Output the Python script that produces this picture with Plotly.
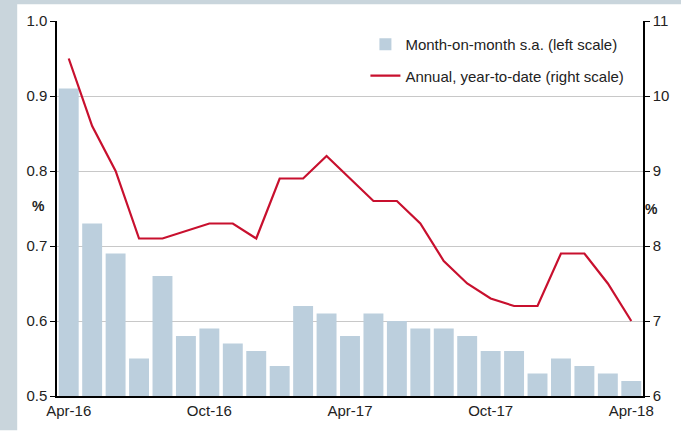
import plotly.graph_objects as go

months = ["Apr-16","May-16","Jun-16","Jul-16","Aug-16","Sep-16","Oct-16","Nov-16","Dec-16",
          "Jan-17","Feb-17","Mar-17","Apr-17","May-17","Jun-17","Jul-17","Aug-17","Sep-17",
          "Oct-17","Nov-17","Dec-17","Jan-18","Feb-18","Mar-18","Apr-18"]
mom_sa = [0.91,0.73,0.69,0.55,0.66,0.58,0.59,0.57,0.56,0.54,0.62,0.61,0.58,0.61,0.60,0.59,
          0.59,0.58,0.56,0.56,0.53,0.55,0.54,0.53,0.52]
annual_ytd = [10.5,9.6,9.0,8.1,8.1,8.2,8.3,8.3,8.1,8.9,8.9,9.2,8.9,8.6,8.6,8.3,7.8,7.5,7.3,
              7.2,7.2,7.9,7.9,7.5,7.0]
tick_labels = ["Apr-16","Oct-16","Apr-17","Oct-17","Apr-18"]

idx = list(range(len(months)))
tick_idx = [months.index(t) for t in tick_labels]

FONT = "Liberation Sans, Arial, sans-serif"
fig = go.Figure()
fig.add_trace(go.Bar(x=idx, y=mom_sa, name="Month-on-month s.a. (left scale)",
                     legendgroup="a",
                     marker=dict(color="#bccfdd", line=dict(width=0)), yaxis="y"))
fig.add_trace(go.Scatter(x=idx, y=annual_ytd, name="Annual, year-to-date (right scale)",
                         legendgroup="b",
                         mode="lines", line=dict(color="#c8102e", width=2.2), yaxis="y2"))

L, R, T, B = 57, 35, 20, 31
W, H = 681, 431
pw, ph = W - L - R, H - T - B

fig.update_layout(
    width=W, height=H,
    margin=dict(l=L, r=R, t=T, b=B),
    paper_bgcolor="white", plot_bgcolor="white",
    bargap=0.15,
    font=dict(family=FONT, size=15, color="#222"),
    showlegend=True,
    legend=dict(x=(367 - L) / pw, y=(400 - 27) / ph, xanchor="left", yanchor="top",
                bgcolor="rgba(0,0,0,0)", font=dict(size=15, color="#222"),
                tracegroupgap=9, itemwidth=30),
    xaxis=dict(range=[-0.5, len(months) - 0.5], tickvals=tick_idx, ticktext=tick_labels,
               showgrid=False, showline=True, linecolor="black", linewidth=1.5,
               ticks="", zeroline=False, tickfont=dict(size=15)),
    yaxis=dict(range=[0.5, 1.0], dtick=0.1, tickformat=".1f", showgrid=True,
               gridcolor="#c8c8c8", gridwidth=1, showline=True, linecolor="black",
               linewidth=1.5, ticks="outside", ticklen=5, tickcolor="black",
               zeroline=False, tickfont=dict(size=15)),
    yaxis2=dict(range=[6, 11], dtick=1, overlaying="y", side="right", showgrid=False,
                showline=True, linecolor="black", linewidth=1.5, ticks="outside",
                ticklen=5, tickcolor="black", zeroline=False, tickfont=dict(size=15)),
)

# grey-blue frame strips (left and top)
fig.add_shape(type="rect", xref="paper", yref="paper",
              x0=-L / pw - 0.01, x1=(17 - L) / pw, y0=-B / ph - 0.01, y1=(H - B + 10) / ph,
              fillcolor="#c9d5dc", line=dict(width=0), layer="below")
fig.add_shape(type="rect", xref="paper", yref="paper",
              x0=-L / pw - 0.01, x1=1 + R / pw + 0.01, y0=(400 - 3) / ph, y1=(400 + 10) / ph,
              fillcolor="#c9d5dc", line=dict(width=0), layer="below")

fig.add_annotation(text="<b>%</b>", xref="paper", yref="paper",
                   x=(30 - L) / pw, y=(400 - 207) / ph, showarrow=False,
                   font=dict(size=14, color="#222"))
fig.add_annotation(text="<b>%</b>", xref="paper", yref="paper",
                   x=(663 - L) / pw, y=(400 - 210) / ph, showarrow=False,
                   font=dict(size=14, color="#222"))

fig.write_html("out.html", config={"displayModeBar": False},
               post_script="document.body.style.margin='0';")
